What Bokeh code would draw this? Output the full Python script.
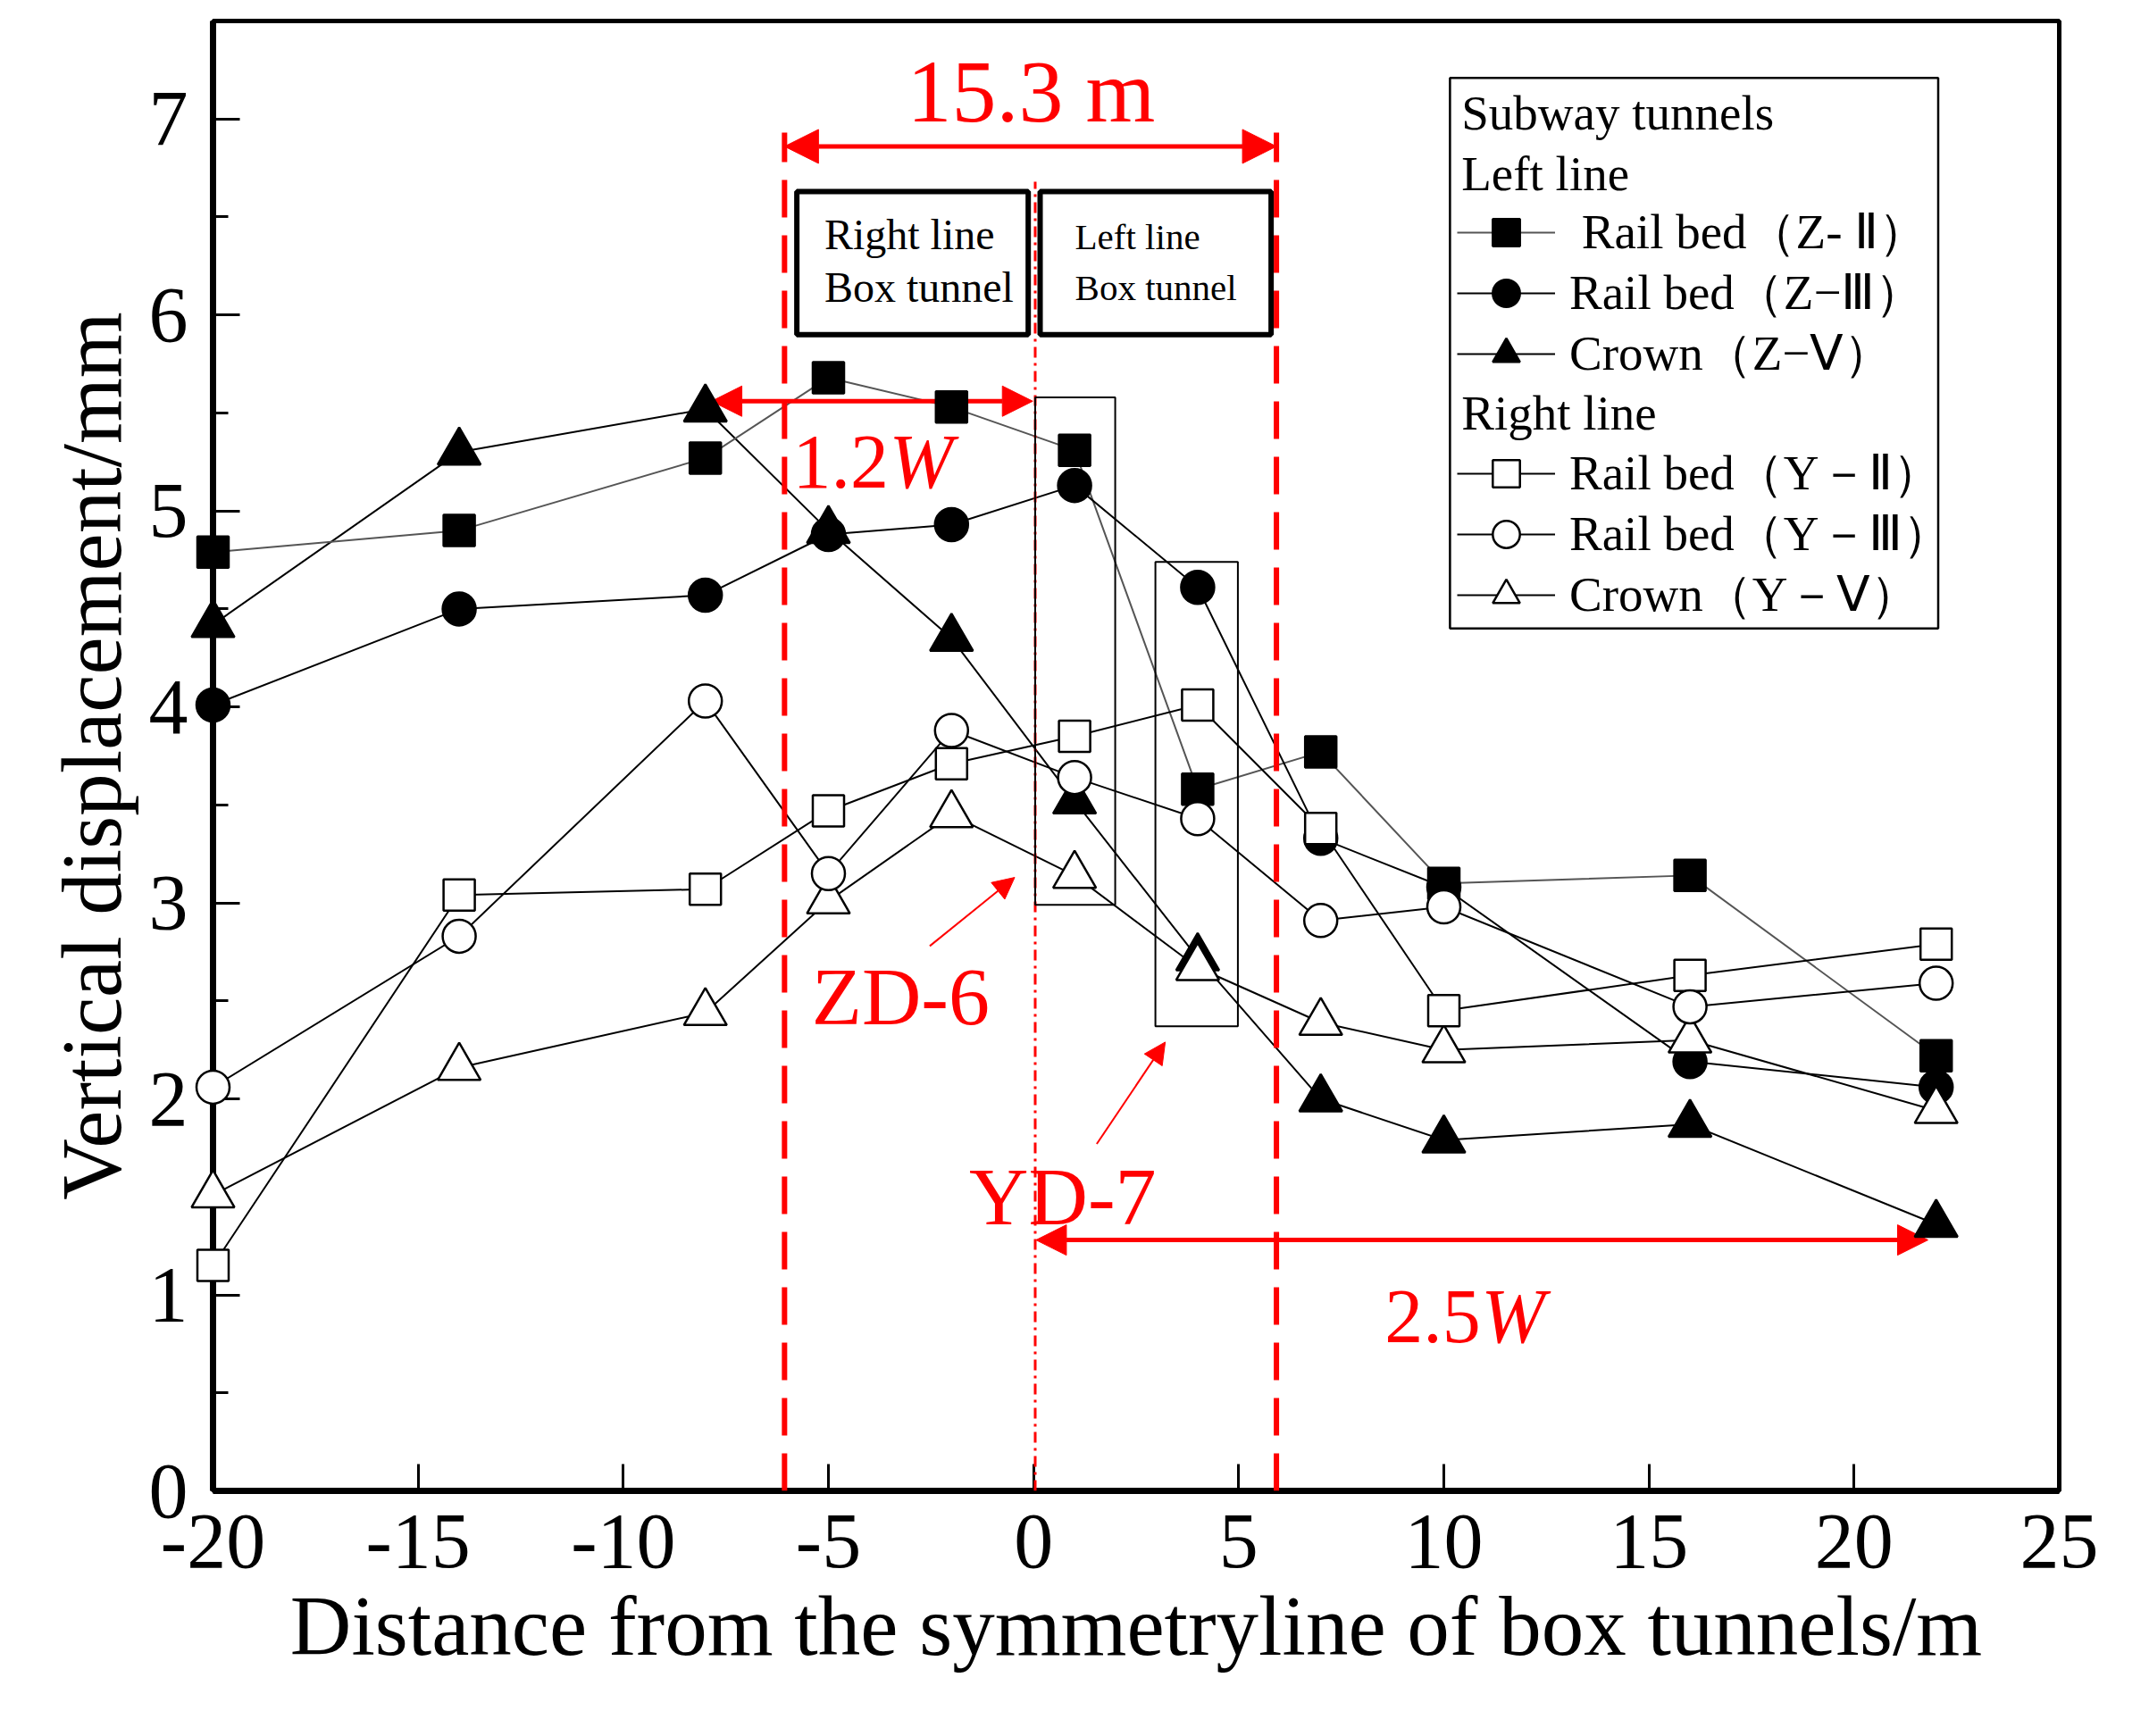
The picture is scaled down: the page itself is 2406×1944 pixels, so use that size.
from bokeh.plotting import figure
from bokeh.models import (Range1d, FixedTicker, SingleIntervalTicker, Legend, LegendItem,
                          Label, BoxAnnotation, Arrow, NormalHead)
from bokeh.embed import file_html
from bokeh.resources import INLINE

FONT = "Liberation Serif"
RED = "#ff0000"

# ---------------- data ----------------
distance = [-20, -14, -8, -5, -2, 1, 4, 7, 10, 16, 22]
z_ii = [4.79, 4.90, 5.27, 5.68, 5.53, 5.31, 3.58, 3.77, 3.10, 3.14, 2.22]
z_iii = [4.01, 4.50, 4.57, 4.88, 4.93, 5.13, 4.61, 3.33, 3.08, 2.19, 2.06]
z_v = [4.42, 5.30, 5.52, 4.90, 4.35, 3.52, 2.72, 2.00, 1.79, 1.87, 1.36]
y_ii = [1.15, 3.04, 3.07, 3.47, 3.71, 3.85, 4.01, 3.38, 2.45, 2.63, 2.79]
y_iii = [2.06, 2.83, 4.03, 3.15, 3.88, 3.64, 3.43, 2.91, 2.98, 2.47, 2.59]
y_v = [1.51, 2.16, 2.44, 3.01, 3.45, 3.14, 2.67, 2.39, 2.25, 2.30, 1.94]

series_labels = [" Rail bed（Z- Ⅱ）", "Rail bed（Z−Ⅲ）", "Crown（Z−Ⅴ）",
                 "Rail bed（Y－Ⅱ）", "Rail bed（Y－Ⅲ）", "Crown（Y－Ⅴ）"]

x_ticks = [-20, -15, -10, -5, 0, 5, 10, 15, 20, 25]
x_tick_labels = ["-20", "-15", "-10", "-5", "0", "5", "10", "15", "20", "25"]

x_title = "Distance from the symmetryline of box tunnels/m"
y_title = "Vertical displacement/mm"

# ---------------- figure ----------------
FRAME_H = 1646
p = figure(frame_width=2067, frame_height=FRAME_H,
           x_range=Range1d(-20, 25), y_range=Range1d(0, 7.5),
           output_backend="svg", toolbar_location=None,
           min_border_left=238, min_border_right=80, min_border_top=23, min_border_bottom=262,
           background_fill_color="white", border_fill_color="white")
p.grid.visible = False
p.outline_line_color = "black"
p.outline_line_width = 5

xa = p.xaxis[0]
ya = p.yaxis[0]
xa.ticker = FixedTicker(ticks=x_ticks, minor_ticks=[])
xa.major_label_overrides = {t: l for t, l in zip(x_ticks, x_tick_labels)}
ya.ticker = SingleIntervalTicker(interval=1, num_minor_ticks=2)
xa.axis_label = x_title
ya.axis_label = y_title
for ax in (xa, ya):
    ax.axis_line_width = 7
    ax.axis_line_color = "black"
    ax.major_tick_in = 30
    ax.major_tick_out = 0
    ax.minor_tick_in = 17
    ax.minor_tick_out = 0
    ax.major_tick_line_width = 3
    ax.minor_tick_line_width = 3
    ax.major_label_text_font = FONT
    ax.major_label_text_font_size = "88px"
    ax.major_label_text_color = "black"
    ax.axis_label_text_font = FONT
    ax.axis_label_text_font_size = "95px"
    ax.axis_label_text_font_style = "normal"
    ax.axis_label_text_color = "black"
xa.major_label_standoff = 27
xa.axis_label_standoff = 10
ya.major_label_standoff = 28
ya.axis_label_standoff = 8

# ---------------- annotations (behind data) ----------------
dash_x = [-6.07, 5.92]
dash_top = 6.93
for xv in dash_x:
    p.add_layout(Arrow(end=None, x_start=xv, y_start=0, x_end=xv, y_end=dash_top,
                       line_color=RED, line_width=6, line_dash="42 20"))
dot_x = 0.04
p.add_layout(Arrow(end=None, x_start=dot_x, y_start=0, x_end=dot_x, y_end=6.68,
                   line_color=RED, line_width=3, line_dash="12 6 3 6"))

# box tunnels
for (l, r) in [(-5.77, -0.13), (0.16, 5.79)]:
    p.add_layout(BoxAnnotation(left=l, right=r, bottom=5.90, top=6.63,
                               fill_color="white", fill_alpha=1.0,
                               line_color="black", line_alpha=1.0, line_width=6))
box_texts = [(-5.10, 6.41, "Right line", "48px"), (-5.10, 6.14, "Box tunnel", "48px"),
             (1.01, 6.40, "Left line", "41px"), (1.01, 6.14, "Box tunnel", "41px")]
for xv, yv, t, fs in box_texts:
    p.add_layout(Label(x=xv, y=yv, text=t, text_font=FONT, text_font_size=fs,
                       text_color="black", text_baseline="middle", text_align="left"))

# rectangles around measuring points
for (l, r, b, t) in [(0.04, 1.99, 2.99, 5.58), (2.97, 4.98, 2.37, 4.74)]:
    p.add_layout(BoxAnnotation(left=l, right=r, bottom=b, top=t, fill_alpha=0,
                               line_color="black", line_alpha=1.0, line_width=2))

# ---------------- data series ----------------
specs = [
    (z_v, "triangle", "black", "black", 48),
    (z_ii, "square", "black", "#555555", 35),
    (z_iii, "circle", "black", "black", 37),
    (y_v, "triangle", "white", "black", 48),
    (y_ii, "square", "white", "black", 35),
    (y_iii, "circle", "white", "black", 37),
]
line_r = []
for vals, mk, fc, lc, sz in specs:
    line_r.append(p.line(distance, vals, line_color=lc, line_width=2))
mark_r = []
for vals, mk, fc, lc, sz in specs:
    mark_r.append(p.scatter(distance, vals, marker=mk, size=sz, fill_color=fc,
                            line_color="black", line_width=2.5, level="overlay"))

# legend rows: Z-II, Z-III, Z-V, Y-II, Y-III, Y-V (row centre in data units)
legend_order = [1, 2, 0, 4, 5, 3]
legend_rows = [6.42, 6.11, 5.80, 5.19, 4.88, 4.57]
ROW_H = 76
px_per_unit = FRAME_H / 7.5
for i, lab, yc in zip(legend_order, series_labels, legend_rows):
    item = LegendItem(label=lab, renderers=[line_r[i], mark_r[i]])
    bottom = int(round(yc * px_per_unit - ROW_H / 2))
    p.add_layout(Legend(items=[item], location=(1393, bottom), border_line_alpha=0,
                        background_fill_alpha=0, padding=0, margin=0, spacing=0,
                        glyph_width=110, glyph_height=ROW_H, label_height=ROW_H,
                        label_standoff=16, label_text_font=FONT, label_text_font_size="55px",
                        label_text_color="black"))
p.add_layout(BoxAnnotation(left=10.15, right=22.05, bottom=4.40, top=7.21, fill_alpha=0,
                           line_color="black", line_alpha=1.0, line_width=2.5))
for t, yv in [("Subway tunnels", 7.03), ("Left line", 6.72), ("Right line", 5.50)]:
    p.add_layout(Label(x=10.43, y=yv, text=t, text_font=FONT, text_font_size="55px",
                       text_color="black", text_baseline="middle", text_align="left"))

# ---------------- red dimension arrows & texts ----------------
def head(sz):
    return NormalHead(size=sz, fill_color=RED, line_color=RED)


def red_text(x, y, t, size, style="normal", align="left", xoff=0):
    p.add_layout(Label(x=x, y=y, x_offset=xoff, text=t, text_font=FONT, text_font_size=size,
                       text_font_style=style, text_color=RED, text_align=align,
                       text_baseline="middle"))


p.add_layout(Arrow(start=head(38), end=head(38), x_start=-6.07, y_start=6.86, x_end=5.92, y_end=6.86,
                   line_color=RED, line_width=5))
red_text(-0.06, 7.14, "15.3 m", "100px", align="center")

p.add_layout(Arrow(start=head(34), end=head(34), x_start=-7.85, y_start=5.56, x_end=-0.02, y_end=5.56,
                   line_color=RED, line_width=5))
red_text(-5.87, 5.25, "1.2", "86px")
red_text(-5.87, 5.25, "W", "86px", style="italic", xoff=108)

p.add_layout(Arrow(start=head(34), end=head(34), x_start=0.06, y_start=1.28, x_end=21.8, y_end=1.28,
                   line_color=RED, line_width=5))
red_text(8.56, 0.89, "2.5", "86px")
red_text(8.56, 0.89, "W", "86px", style="italic", xoff=108)

p.add_layout(Arrow(end=head(24), x_start=-2.53, y_start=2.78, x_end=-0.46, y_end=3.13,
                   line_color=RED, line_width=2))
red_text(-3.24, 2.52, "ZD-6", "92px", align="center")
p.add_layout(Arrow(end=head(24), x_start=1.54, y_start=1.77, x_end=3.21, y_end=2.29,
                   line_color=RED, line_width=2))
red_text(0.71, 1.50, "YD-7", "92px", align="center")

open("out.html", "w").write(file_html(p, INLINE))
